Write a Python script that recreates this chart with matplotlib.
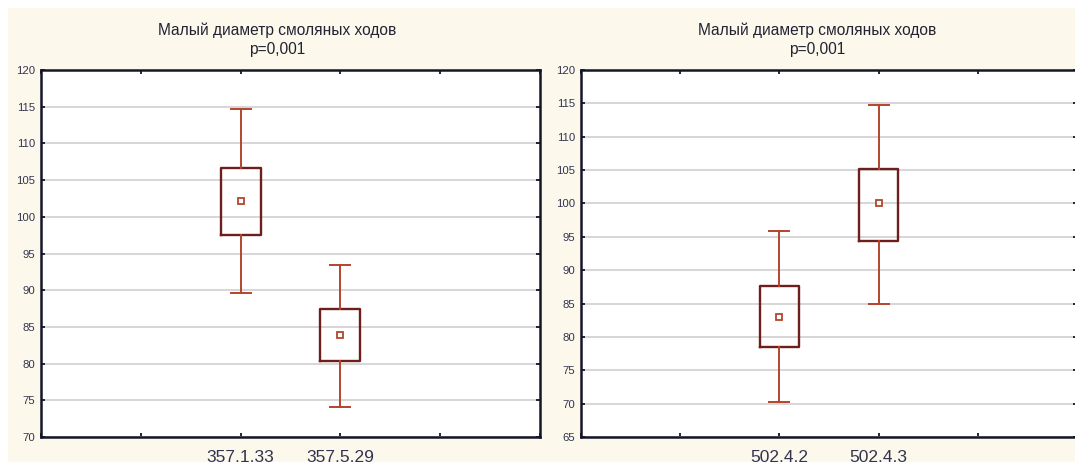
import matplotlib
matplotlib.use("Agg")
import matplotlib.pyplot as plt
from matplotlib.patches import Rectangle

# data
title = "Малый диаметр смоляных ходов\np=0,001"

left_labels = ["357.1.33", "357.5.29"]
left_mean = [102.2, 83.9]
left_q1 = [97.5, 80.4]
left_q3 = [106.7, 87.4]
left_lo = [89.6, 74.1]
left_hi = [114.7, 93.5]

right_labels = ["502.4.2", "502.4.3"]
right_mean = [83.0, 100.0]
right_q1 = [78.5, 94.4]
right_q3 = [87.7, 105.2]
right_lo = [70.2, 84.9]
right_hi = [95.9, 114.8]

plt.rcParams['font.family'] = ['Liberation Sans Narrow', 'Liberation Sans', 'DejaVu Sans']

box_col = '#6e1f1c'
whisk_col = '#b4442e'
text_col = '#333350'
spine_col = '#15152a'

W, H = 1075, 466
fig = plt.figure(figsize=(W / 100, H / 100), dpi=100)
fig.patch.set_facecolor('white')
fig.patches.append(Rectangle((8 / W, 4 / H), 1 - 8 / W, (458 - 4) / H,
                             transform=fig.transFigure, facecolor='#fcf9ec',
                             edgecolor='none', zorder=-10))


def draw_panel(rect, labels, mean, q1, q3, lo, hi, ylo, title_x):
    ax = fig.add_axes(rect)
    ax.set_facecolor('white')
    stats = []
    for i in range(len(labels)):
        stats.append(dict(med=mean[i], mean=mean[i], q1=q1[i], q3=q3[i],
                          whislo=lo[i], whishi=hi[i], fliers=[], label=labels[i]))
    ax.bxp(stats, positions=[2, 3], widths=0.4, capwidths=0.2, showmeans=True,
           showfliers=False, patch_artist=False,
           boxprops=dict(color=box_col, linewidth=1.7),
           whiskerprops=dict(color=whisk_col, linewidth=1.4),
           capprops=dict(color=whisk_col, linewidth=1.4),
           medianprops=dict(linewidth=0),
           meanprops=dict(marker='s', markersize=4.5, markerfacecolor='white',
                          markeredgecolor=whisk_col, markeredgewidth=1.3))
    ax.set_xlim(0, 5)
    ax.set_ylim(ylo, 120)
    ax.set_xticks(range(6))
    ax.set_xticklabels(['', '', labels[0], labels[1], '', ''], fontsize=12.5, color=text_col)
    ax.set_yticks(range(ylo, 121, 5))
    ax.set_yticklabels([str(v) for v in range(ylo, 121, 5)], fontsize=8.2, color=text_col)
    ax.tick_params(axis='both', direction='in', length=3, width=1.3, color=spine_col,
                   top=True, right=True)
    ax.tick_params(axis='x', pad=9)
    ax.tick_params(axis='y', pad=4)
    ax.yaxis.grid(True, color='#d6d6d6', linewidth=1.4)
    ax.set_axisbelow(True)
    for s in ax.spines.values():
        s.set_color(spine_col)
        s.set_linewidth(1.8)
    fig.text(title_x / W, 1 - 39.5 / H, title, ha='center', va='center',
             fontsize=11.2, color='#222233', linespacing=1.35)
    return ax


draw_panel([41 / W, 1 - 437 / H, 499 / W, 367 / H], left_labels, left_mean,
           left_q1, left_q3, left_lo, left_hi, 70, 277)
draw_panel([581 / W, 1 - 437 / H, 496 / W, 367 / H], right_labels, right_mean,
           right_q1, right_q3, right_lo, right_hi, 65, 817)

fig.savefig('out.png', dpi=100)
